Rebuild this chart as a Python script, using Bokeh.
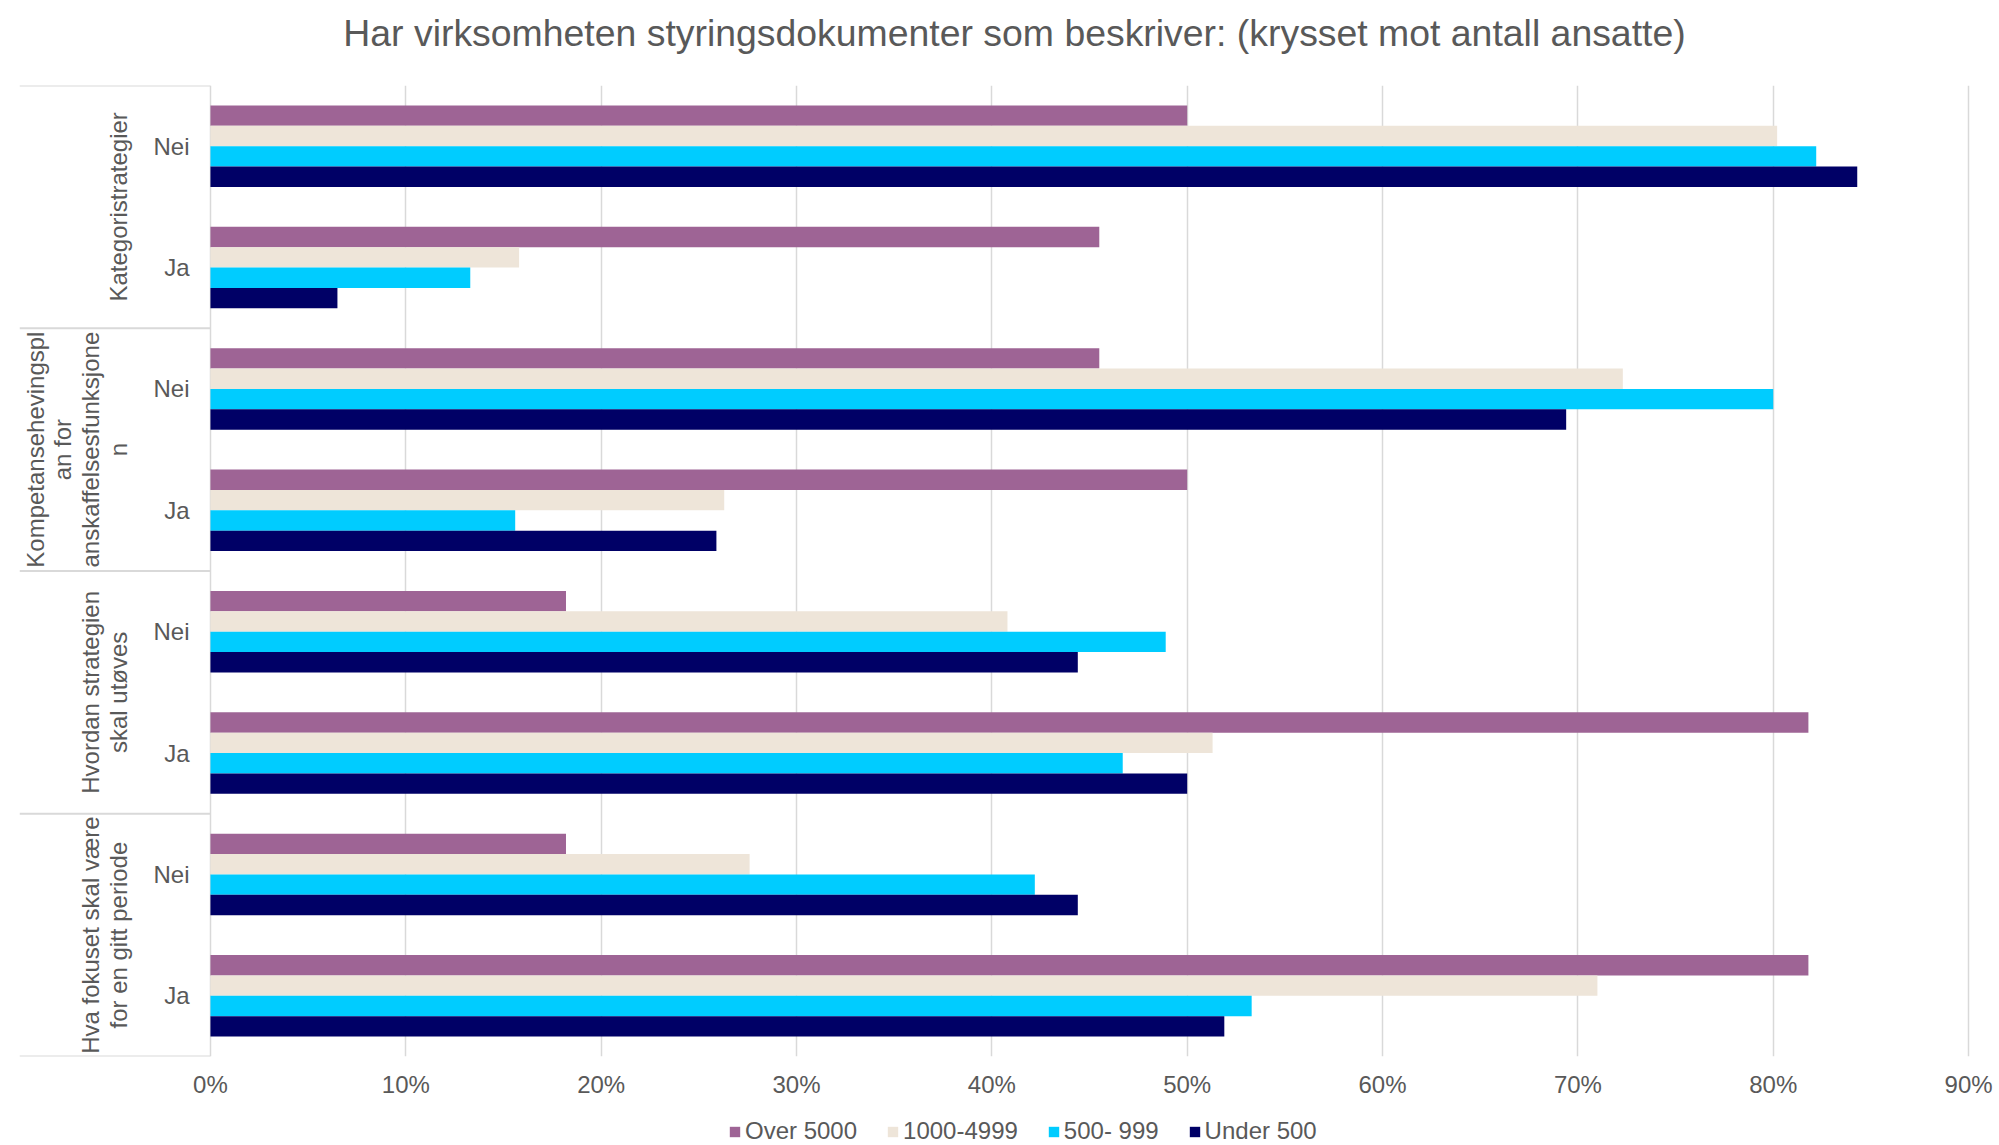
import math
from bokeh.plotting import figure
from bokeh.layouts import column
from bokeh.models import (FactorRange, Range1d, ColumnDataSource, FixedTicker,
                          PrintfTickFormatter, Legend, LegendItem, Label)
from bokeh.transform import dodge
from bokeh.core.properties import value
from bokeh.embed import file_html
from bokeh.resources import INLINE

# ---------------- data ----------------
title_text = "Har virksomheten styringsdokumenter som beskriver: (krysset mot antall ansatte)"
groups = ["Kategoristrategier",
          "Kompetansehevingsplan for anskaffelsesfunksjonen",
          "Hvordan strategien skal utøves",
          "Hva fokuset skal være for en gitt periode"]
group_labels = ["Kategoristrategier",
                "Kompetansehevingspl\nan for\nanskaffelsesfunksjone\nn",
                "Hvordan strategien\nskal utøves",
                "Hva fokuset skal være\nfor en gitt periode"]
answers = ["Nei", "Ja"]

series_names = ["Over 5000", "1000-4999", "500- 999", "Under 500"]
series_colors = ["#9E6495", "#EEE5D9", "#00CCFF", "#000066"]
# values (%) in order: Kat Nei, Kat Ja, Komp Nei, Komp Ja, Hvordan Nei, Hvordan Ja, Hva Nei, Hva Ja
over_5000 = [50.0, 45.5, 45.5, 50.0, 18.2, 81.8, 18.2, 81.8]
r1000_4999 = [80.2, 15.8, 72.3, 26.3, 40.8, 51.3, 27.6, 71.0]
r500_999 = [82.2, 13.3, 80.0, 15.6, 48.9, 46.7, 42.2, 53.3]
under_500 = [84.3, 6.5, 69.4, 25.9, 44.4, 50.0, 44.4, 51.9]
series_values = [over_5000, r1000_4999, r500_999, under_500]

x_ticks = [0, 10, 20, 30, 40, 50, 60, 70, 80, 90]

# ---------------- styling ----------------
cats = [(g, a) for g in groups for a in answers]          # top -> bottom
factors = list(reversed(cats))                             # bottom -> top for y

TXT = "#595959"
FONT = "Liberation Sans"
GRID = "#D9D9D9"
W = 1999


def strip(height):
    f = figure(width=W, height=height, x_range=Range1d(0, 1), y_range=Range1d(0, 1),
               x_axis_location=None, y_axis_location=None,
               output_backend="svg", toolbar_location=None, min_border=0)
    f.outline_line_color = None
    f.xgrid.grid_line_color = None
    f.ygrid.grid_line_color = None
    return f


# ---------------- title strip ----------------
p0 = strip(64)
p0.add_layout(Label(x=995, y=32, x_units="screen", y_units="screen",
                    text=title_text, text_align="center", text_baseline="middle",
                    text_font=FONT, text_font_size="37.4px", text_color=TXT))

# ---------------- main chart ----------------
p = figure(width=W, height=1036,
           x_range=Range1d(-9.775, 90.2),
           y_range=FactorRange(*factors, group_padding=0, factor_padding=0,
                               range_padding=0),
           y_axis_location=None,
           output_backend="svg", toolbar_location=None,
           min_border_left=19, min_border_right=27,
           min_border_top=21, min_border_bottom=44)
p.outline_line_color = None
p.background_fill_color = "white"

p.ygrid.grid_line_color = None
p.xgrid.ticker = FixedTicker(ticks=x_ticks)
p.xgrid.grid_line_color = GRID
p.xgrid.grid_line_width = 1.5

ax = p.xaxis[0]
ax.ticker = FixedTicker(ticks=x_ticks)
ax.formatter = PrintfTickFormatter(format="%d%%")
ax.axis_line_color = None
ax.major_tick_line_color = None
ax.minor_tick_line_color = None
ax.major_label_text_font = FONT
ax.major_label_text_font_size = "24px"
ax.major_label_text_color = TXT
ax.major_label_standoff = 8

bar_h = 0.168
offsets = [0.252, 0.084, -0.084, -0.252]
for name, color, vals, off in zip(series_names, series_colors, series_values, offsets):
    src = ColumnDataSource(dict(cat=cats, val=vals))
    p.hbar(y=dodge("cat", off, range=p.y_range), left=0, right="val",
           height=bar_h, source=src, fill_color=color, line_color=None)

# separators in the label area (synthetic categorical coordinates)
n_groups = len(groups)
sep_y = [i * len(answers) for i in range(n_groups + 1)]
p.segment(x0=[-9.775] * len(sep_y), x1=[0] * len(sep_y), y0=sep_y, y1=sep_y,
          line_color=GRID, line_width=2)

# sub-category labels
p.text(x=[-1.07] * len(cats), y=cats, text=[c[1] for c in cats],
       text_align="right", text_baseline="middle",
       text_font=value(FONT), text_font_size="24px", text_color=TXT)

# group labels (rotated)
p.text(x=[-4.04] * n_groups, y=groups, text=group_labels, angle=math.pi / 2,
       text_align="center", text_baseline="bottom", text_line_height=1.02,
       text_font=value(FONT), text_font_size="24px", text_color=TXT)

# ---------------- legend strip ----------------
p2 = strip(45)
items = []
for name, color in zip(series_names, series_colors):
    # off-screen proxy glyph, only used for the legend swatch
    r = p2.hbar(y=[-5], left=[0], right=[1], height=0.5, fill_color=color, line_color=None)
    items.append(LegendItem(label=name, renderers=[r]))
legend = Legend(items=items, orientation="horizontal", location=(709, 0),
                border_line_color=None, background_fill_alpha=0,
                label_text_font=FONT, label_text_font_size="24px",
                label_text_color=TXT, glyph_width=13, glyph_height=13,
                label_standoff=4, spacing=29, padding=0, margin=0)
p2.add_layout(legend, "center")

open("out.html", "w").write(file_html(column(p0, p, p2, spacing=0), INLINE))
